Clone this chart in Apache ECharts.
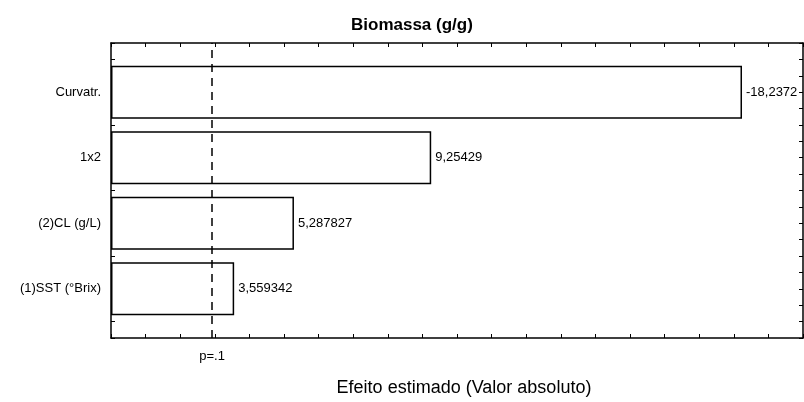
<!DOCTYPE html>
<html lang="pt">
<head>
  <meta charset="UTF-8">
  <script src="https://cdn.jsdelivr.net/npm/echarts@6/dist/echarts.min.js"></script>
  <title>Biomassa</title>
</head>
<body style="margin:0;background:#fff;">
  <div id="pareto" style="width:804px;height:402px;"></div>

  <script>
    // effects, from bottom to top of the chart
    var categories = ['(1)SST (°Brix)', '(2)CL (g/L)', '1x2', 'Curvatr.'];
    var effects = [3.559342, 5.287827, 9.25429, -18.2372];
    var pCrit = 2.919986;   // p=.1 reference line
    var pLabel = 'p=.1';

    // y axis is split in quarter steps so the frame leaves 3/4 of a band above and below
    var slotsPerBar = 4;
    var firstSlot = 3;
    var slotCount = firstSlot * 2 + (categories.length - 1) * slotsPerBar + 1;

    var axisSlots = [];
    for (var i = 0; i < slotCount; i++) {
      axisSlots.push('');
    }
    var barData = [];
    for (var k = 0; k < categories.length; k++) {
      var slot = firstSlot + k * slotsPerBar;
      axisSlots[slot] = categories[k];
      barData.push([Math.abs(effects[k]), slot]);
    }

    var font = '"Liberation Sans", Arial, sans-serif';
    var tick = { show: true, inside: true, length: 4, lineStyle: { color: '#000', width: 1 } };
    var frame = { show: true, onZero: false, lineStyle: { color: '#000', width: 1.5 } };

    var chart = echarts.init(document.getElementById('pareto'));
    chart.setOption({
      animation: false,
      backgroundColor: '#fff',
      title: {
        text: 'Biomassa (g/g)',
        left: 346,
        top: 12,
        textStyle: { fontFamily: font, fontSize: 17, fontWeight: 'bold', color: '#000' }
      },
      grid: { left: 111, right: 1, top: 43, bottom: 62, containLabel: false },
      xAxis: [
        {
          type: 'value', min: 0, max: 20, interval: 1,
          name: 'Efeito estimado (Valor absoluto)',
          nameLocation: 'middle', nameGap: 41,
          nameTextStyle: { fontFamily: font, fontSize: 18, color: '#000', padding: [0, 0, 0, 14] },
          axisLine: frame, axisTick: tick,
          axisLabel: { show: false }, splitLine: { show: false }
        },
        {
          type: 'value', min: 0, max: 20, interval: 1, position: 'top',
          axisLine: frame, axisTick: tick,
          axisLabel: { show: false }, splitLine: { show: false }
        }
      ],
      yAxis: [
        {
          type: 'category', data: axisSlots, boundaryGap: false,
          axisLine: frame,
          axisTick: { show: true, inside: true, length: 4, interval: 0, lineStyle: { color: '#000' } },
          axisLabel: { interval: 0, margin: 10, fontFamily: font, fontSize: 13, color: '#000' }
        },
        {
          type: 'category', data: axisSlots, boundaryGap: false, position: 'right',
          axisLine: frame,
          axisTick: { show: true, inside: true, length: 4, interval: 0, lineStyle: { color: '#000' } },
          axisLabel: { show: false }
        }
      ],
      series: [
        {
          type: 'bar',
          data: barData,
          barWidth: 53,
          itemStyle: { color: '#fff', borderColor: '#000', borderWidth: 1.5 },
          label: {
            show: true, position: 'right', distance: 4,
            fontFamily: font, fontSize: 13, color: '#000',
            formatter: function (p) {
              return String(effects[p.dataIndex]).replace('.', ',');
            }
          },
          markLine: {
            silent: true, symbol: 'none',
            lineStyle: { color: '#000', width: 1.5, type: [8, 6] },
            label: {
              show: true, position: 'start', distance: 12,
              formatter: pLabel, fontFamily: font, fontSize: 13, color: '#000'
            },
            data: [{ xAxis: pCrit }]
          }
        }
      ]
    });
  </script>
</body>
</html>
